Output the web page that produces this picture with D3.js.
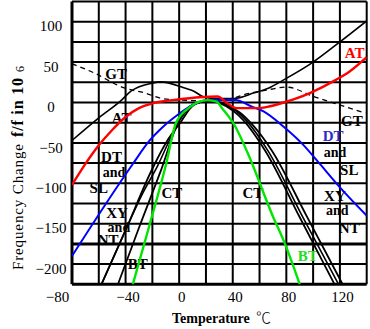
<!DOCTYPE html>
<html>
<head>
<meta charset="utf-8">
<script src="https://cdn.jsdelivr.net/npm/d3@7"></script>
<style>
  body { margin: 0; background: #fff; }
  svg { display: block; }
  text { font-family: "Times New Roman", "Liberation Serif", serif; }
</style>
</head>
<body>
<svg id="chart" width="370" height="329"></svg>
<script>
// Axis ticks and grid (temperature in °C, frequency change in ppm)
const xTickLabels = [-80, -40, 0, 40, 80, 120];
const yTickLabels = [100, 50, 0, -50, -100, -150, -200];
const xGrid = d3.range(-80, 141, 20);
const yGrid = d3.range(-225, 126, 25);

// Frequency–temperature curves of the crystal cuts: [temperature, ppm]
const gtCut = [[-80,48],[-64,37],[-41,18],[-26,12],[-13,5],[0,3],[25,2],[40,5],[47,9],[64,15],[80,19],[101,7],[116,-1],[139,-13]];
const atCubic = [[-80,-47],[-60,-19],[-43,3],[-36,14],[-20,24],[-14,25.5],[4,18],[11,14],[18,7],[26,5],[41,5],[56,12],[67,18],[78,28],[100,50],[120,75],[140,101]];
const atRed = [[-80,-102],[-70,-76],[-60,-53],[-50,-34],[-40,-18],[-30,-7],[-20,-1],[-10,2],[0,4],[15,6.5],[29,7.5],[33,3],[36,-1],[43,-7],[58,-7],[67,-5],[78,0],[98,12],[117,28],[127,38],[140,56]];
const dtSl = [[-80,-190],[-35,-77],[-22,-47],[-12,-30],[0,-14],[10,-3],[22,3],[42,3],[54,-5],[63,-11],[78,-30],[93,-53],[105,-76],[120,-105],[140,-140]];
const ctOuter = [[-58,-225],[-40,-158],[-20,-82],[-8,-45],[0,-27],[11,-3],[22,2],[40,-10],[48,-22],[64,-59],[90,-142],[116,-225]];
const ctMiddle = [[-58,-225],[-40,-158],[-28,-115],[-16,-78],[0,-23],[11,-2],[22,2],[42,-10],[51,-24],[66,-59],[92,-141],[119,-225]];
const ctInner = [[-45.7,-225],[-30,-155],[-13.6,-84],[0,-22],[11,-2],[22,2],[45,-12],[55,-28],[69,-59],[95,-140],[122,-225]];
const btCut = [[-34.6,-225],[-22,-151],[-10,-78],[-2.5,-26],[7,-7],[15,1],[21,3],[28,1],[32,-7],[42,-30],[51,-62],[70,-141],[79,-175],[90,-225]];

// Curve names placed at [temperature, ppm]
const curveLabels = [
  { text: "GT",  at: [-47, 35],    color: "#000" },
  { text: "AT",  at: [-43, -19],   color: "#000" },
  { text: "DT",  at: [-50.5, -67], color: "#000" },
  { text: "and", at: [-48.7, -86], color: "#000", small: true },
  { text: "SL",  at: [-60, -106],  color: "#000" },
  { text: "XY",  at: [-46.4, -137],color: "#000" },
  { text: "and", at: [-45, -154],  color: "#000", small: true },
  { text: "NT",  at: [-53, -170],  color: "#000" },
  { text: "BT",  at: [-31, -199],  color: "#000" },
  { text: "CT",  at: [-5.4, -112], color: "#000" },
  { text: "CT",  at: [55, -112],   color: "#000" },
  { text: "BT",  at: [96, -190],   color: "#22dd22" },
  { text: "AT",  at: [131, 61],    color: "#ff0000" },
  { text: "GT",  at: [129, -23],   color: "#000" },
  { text: "DT",  at: [115, -41.5], color: "#2a2acc" },
  { text: "and", at: [116.3, -61], color: "#000", small: true },
  { text: "SL",  at: [127, -83.5], color: "#000" },
  { text: "XY",  at: [116.3, -116],color: "#000" },
  { text: "and", at: [118, -133],  color: "#000", small: true },
  { text: "NT",  at: [127, -155],  color: "#000" }
];

const serif = "'Times New Roman','Liberation Serif',serif";
const svg = d3.select("#chart");
const x = d3.scaleLinear().domain([-80, 140]).range([72, 366.7]);
const y = d3.scaleLinear().domain([-225, 125]).range([284.3, 1.5]);

// Grid
const grid = svg.append("g");
grid.selectAll("line.v").data(xGrid).join("line")
  .attr("x1", d => x(d)).attr("x2", d => x(d))
  .attr("y1", y(125)).attr("y2", y(-225))
  .attr("stroke", "#000")
  .attr("stroke-width", d => d === -80 ? 3 : 2);
grid.selectAll("line.h").data(yGrid).join("line")
  .attr("x1", x(-80)).attr("x2", x(140))
  .attr("y1", d => y(d)).attr("y2", d => y(d))
  .attr("stroke", "#000")
  .attr("stroke-width", d => (d === -225 || d === -175) ? 3 : 2);

// Tick labels through d3 axes
const yAxis = svg.append("g")
  .call(d3.axisLeft(y).tickValues(yTickLabels).tickSize(0).tickFormat(d3.format("d")))
  .attr("font-family", serif).attr("font-size", 15);
yAxis.select(".domain").remove();
yAxis.selectAll("text")
  .attr("x", 51).attr("dy", "0.35em")
  .attr("transform", "translate(0,4)")
  .attr("text-anchor", "middle")
  .attr("fill", "#000");

const xAxis = svg.append("g").attr("transform", "translate(0,297)")
  .call(d3.axisBottom(x).tickValues(xTickLabels).tickSize(0).tickFormat(d3.format("d")))
  .attr("font-family", serif).attr("font-size", 15);
xAxis.select(".domain").remove();
xAxis.selectAll("text")
  .attr("y", 0).attr("dy", "0.35em")
  .attr("transform", d => `translate(${d === -80 ? -15 : 2},0)`)
  .attr("fill", "#000");

// Axis titles
svg.append("text")
  .attr("x", 172).attr("y", 318).attr("dy", "0.35em")
  .attr("font-size", 14).attr("font-weight", "bold")
  .text("Temperature");
svg.append("text")
  .attr("x", 256).attr("y", 318).attr("dy", "0.35em")
  .attr("font-size", 15)
  .style("font-family", "'Noto Sans CJK SC', sans-serif")
  .attr("font-weight", 300)
  .text("℃");

const yTitle = svg.append("g").attr("transform", "translate(23,0) rotate(-90)");
yTitle.append("text").attr("x", -270).attr("y", 0).attr("font-size", 15)
  .attr("textLength", 126).attr("lengthAdjust", "spacing")
  .text("Frequency Change");
yTitle.append("text").attr("x", -137).attr("y", 0).attr("font-size", 16)
  .attr("textLength", 59).attr("lengthAdjust", "spacing")
  .attr("font-weight", "bold").text("f/f in 10");
yTitle.append("text").attr("x", -72).attr("y", 1).attr("font-size", 12)
  .text("6");

// Curve names (drawn beneath the curves)
svg.append("g").selectAll("text").data(curveLabels).join("text")
  .attr("x", d => x(d.at[0])).attr("y", d => y(d.at[1]))
  .attr("dy", "0.35em")
  .attr("text-anchor", "middle")
  .attr("font-weight", "bold")
  .attr("font-size", d => d.small ? 14 : 15)
  .attr("fill", d => d.color)
  .text(d => d.text);

// Curves
svg.append("clipPath").attr("id", "plot")
  .append("rect").attr("x", x(-80)).attr("y", y(125))
  .attr("width", x(140) - x(-80)).attr("height", y(-225) - y(125));

const line = d3.line().x(d => x(d[0])).y(d => y(d[1])).curve(d3.curveMonotoneX);
const curves = [
  { data: gtCut,    color: "#000",    width: 1.3, dash: "5,4" },
  { data: atCubic,  color: "#000",    width: 1.6 },
  { data: ctOuter,  color: "#000",    width: 1.8 },
  { data: ctMiddle, color: "#000",    width: 1.6 },
  { data: ctInner,  color: "#000",    width: 1.8 },
  { data: dtSl,     color: "#0000ff", width: 2 },
  { data: btCut,    color: "#00e600", width: 2.4 },
  { data: atRed,    color: "#ff0000", width: 2.4 }
];
svg.append("g").attr("clip-path", "url(#plot)")
  .selectAll("path").data(curves).join("path")
  .attr("d", d => line(d.data))
  .attr("fill", "none")
  .attr("stroke", d => d.color)
  .attr("stroke-width", d => d.width)
  .attr("stroke-dasharray", d => d.dash || null);
</script>
</body>
</html>
